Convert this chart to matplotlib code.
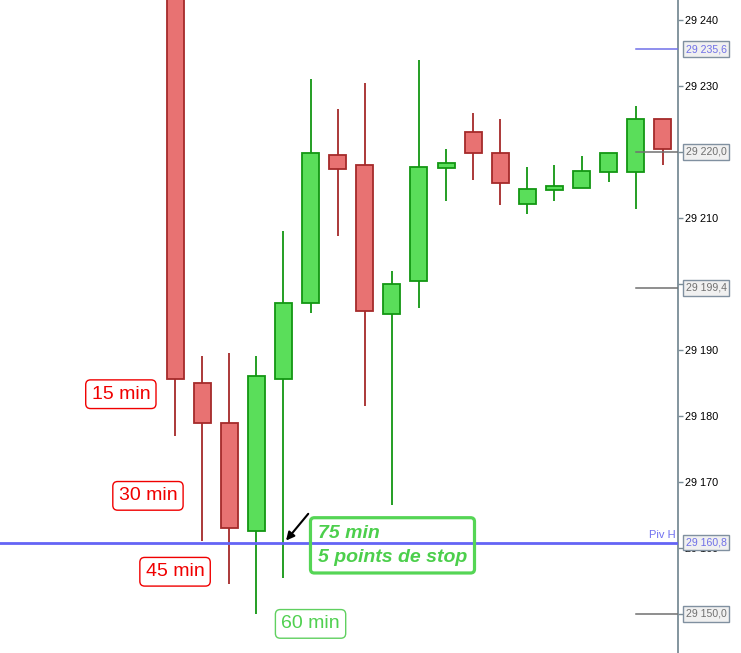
import numpy as np
import matplotlib
matplotlib.use('agg')
import matplotlib.pyplot as plt
from matplotlib.transforms import blended_transform_factory

plt.rcParams['font.family'] = ['Liberation Sans', 'DejaVu Sans']

# OHLC (first candle opens above the visible range)
opens  = [29252.0, 29185.0, 29179.0, 29162.5, 29185.6, 29197.1, 29219.5, 29218.0, 29195.4, 29200.4,
          29217.5, 29223.0, 29219.9, 29212.1, 29214.2, 29214.5, 29216.9, 29216.9, 29225.0]
highs  = [29256.0, 29189.1, 29189.5, 29189.1, 29208.0, 29231.1, 29226.5, 29230.5, 29202.0, 29233.9,
          29220.4, 29225.9, 29225.0, 29217.7, 29218.0, 29219.4, 29219.9, 29227.0, 29225.0]
lows   = [29177.0, 29161.1, 29154.5, 29150.0, 29155.5, 29195.6, 29207.3, 29181.5, 29166.5, 29196.4,
          29212.5, 29215.8, 29211.9, 29210.6, 29212.5, 29214.5, 29215.4, 29211.4, 29218.0]
closes = [29185.6, 29179.0, 29163.0, 29186.0, 29197.1, 29219.9, 29217.4, 29195.9, 29200.0, 29217.7,
          29218.3, 29219.9, 29215.3, 29214.4, 29214.8, 29217.1, 29219.9, 29225.0, 29220.4]

# horizontal levels on the right
level_values = [29235.6, 29220.0, 29199.4, 29150.0]
level_text = ['29 235,6', '29 220,0', '29 199,4', '29 150,0']
level_colors = ['#7070e8', '#707070', '#707070', '#707070']
pivot_value = 29160.8
pivot_text = '29 160,8'

# time labels (candle index, price)
red_labels = ['15 min', '30 min', '45 min']
red_x = [-2.0, -1.0, 0.0]
red_y = [29183.3, 29167.9, 29156.4]
green_label = '60 min'
green_x, green_y = 5.0, 29148.5
stop_text = '75 min\n5 points de stop'
stop_x, stop_y = 5.27, 29160.4

yticks = np.arange(29150, 29241, 10)
hidden_ticks = [29150, 29220]   # fully covered by the level boxes

fig = plt.figure(figsize=(7.41, 6.53), dpi=100)
ax = fig.add_axes([0, 0, 678 / 741, 1])
ax.set_xlim(-6.46, 18.56)
ax.set_ylim(29144.09, 29243.03)

x = np.arange(len(opens))
o = np.array(opens)
c = np.array(closes)
up = c >= o

red_face, red_edge = '#e87272', '#a52a2a'
green_face, green_edge = '#5ade5a', '#129612'

for i in x:
    wc = green_edge if up[i] else red_edge
    ax.vlines(i, lows[i], highs[i], color=wc, lw=1.3, zorder=2)
ax.bar(x[up], (c - o)[up], bottom=o[up], width=0.63,
       color=green_face, edgecolor=green_edge, linewidth=1.3, zorder=3)
ax.bar(x[~up], (o - c)[~up], bottom=c[~up], width=0.63,
       color=red_face, edgecolor=red_edge, linewidth=1.3, zorder=3)

# pivot line
ax.axhline(pivot_value, color='#6464f5', lw=2, zorder=4)
ax.text(0.997, pivot_value + 0.4, 'Piv H', color='#7070f0', fontsize=8,
        ha='right', va='bottom', transform=blended_transform_factory(ax.transAxes, ax.transData))

# short level lines
for v, col in zip(level_values, level_colors):
    ax.axhline(v, xmin=0.938, xmax=1, color=col, lw=1.1, zorder=4)

# axis
for s in ['top', 'left', 'bottom']:
    ax.spines[s].set_visible(False)
ax.spines['right'].set_color('#7a8c96')
ax.spines['right'].set_linewidth(1.3)
ax.set_xticks([])
ax.yaxis.tick_right()
ax.set_yticks(yticks)
ax.set_yticklabels(['' if v in hidden_ticks else '29 %03d' % (v - 29000) for v in yticks])
ax.tick_params(axis='y', direction='out', length=3.6, width=1, color='#7a8c96',
               labelsize=7.8, pad=1.5, labelcolor='black')

tr = blended_transform_factory(fig.transFigure, ax.transData)
box = dict(boxstyle='square,pad=0.25', fc='#f0f0f0', ec='#8090a0', lw=1)
for v, t, col in zip(level_values, level_text, level_colors):
    ax.text(685.5 / 741, v, t, color=col, fontsize=7.6, ha='left', va='center',
            transform=tr, bbox=box, clip_on=False, zorder=6)
ax.text(685.5 / 741, pivot_value, pivot_text, color='#7070e8', fontsize=7.6, ha='left',
        va='center', transform=tr, bbox=box, clip_on=False, zorder=6)

# annotations
for t, lx, ly in zip(red_labels, red_x, red_y):
    ax.text(lx, ly, t, color='#f00000', fontsize=14, ha='center', va='center', zorder=7,
            bbox=dict(boxstyle='round,pad=0.3,rounding_size=0.25', fc='white', ec='#f00000', lw=1))
ax.text(green_x, green_y, green_label, color='#50d050', fontsize=14, ha='center', va='center', zorder=7,
        bbox=dict(boxstyle='round,pad=0.3,rounding_size=0.25', fc='white', ec='#60d060', lw=1))

ax.text(stop_x, stop_y, stop_text, color='#4ccf4c', fontsize=14, fontweight='bold',
        fontstyle='italic', ha='left', va='center', linespacing=1.5, zorder=7,
        bbox=dict(boxstyle='round,pad=0.38,rounding_size=0.2', fc='none', ec='#55d555', lw=2.3))
ax.annotate('', xy=(4.03, pivot_value), xytext=(4.98, 29165.5), zorder=8,
            arrowprops=dict(arrowstyle='-|>', color='black', lw=1.5, mutation_scale=12))

fig.savefig('out.png', dpi=100)
